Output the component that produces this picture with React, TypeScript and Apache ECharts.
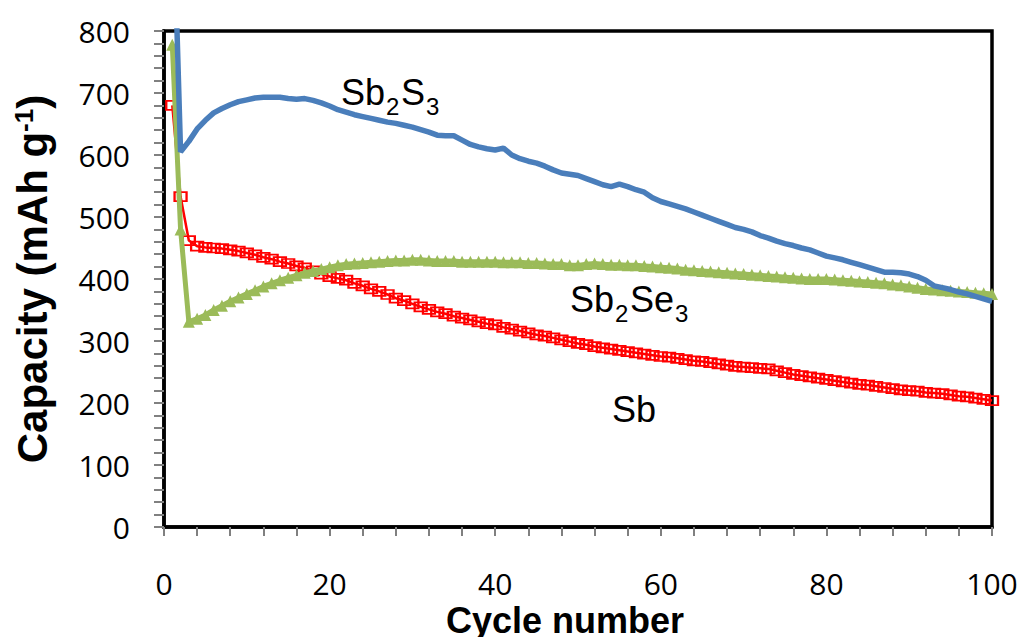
import React, { useEffect, useRef } from "react";
import * as echarts from "echarts";

const cycles: number[] = Array.from({ length: 100 }, (_, i) => i + 1);

const sb2s3: number[] = [
  1060, 605, 622, 642, 656, 668, 675, 681, 686, 689,
  692, 693, 693, 693, 691, 690, 691, 688, 684, 679,
  673, 669, 665, 662, 659, 656, 653, 651, 648, 645,
  641, 637, 632, 631, 631, 624, 617, 613, 610, 608,
  611, 600, 594, 590, 587, 582, 576, 571, 569, 567,
  562, 557, 552, 549, 553, 549, 544, 540, 531, 525,
  521, 517, 513, 508, 503, 498, 493, 488, 483, 480,
  476, 470, 466, 461, 457, 454, 450, 447, 442, 437,
  434, 431, 427, 423, 419, 415, 411, 411, 410, 408,
  404, 398, 389, 386, 383, 379, 376, 372, 368, 364,
];

const sb: number[] = [
  680, 533, 462, 453, 451, 450, 449, 447, 445, 442,
  439, 435, 432, 428, 425, 421, 418, 413, 408, 404,
  401, 398, 393, 389, 384, 380, 375, 369, 365, 360,
  355, 351, 347, 344, 340, 337, 334, 331, 328, 326,
  322, 319, 316, 313, 310, 308, 305, 302, 299, 296,
  294, 291, 289, 287, 285, 283, 281, 279, 277, 275,
  274, 272, 270, 268, 267, 265, 263, 261, 259, 258,
  257, 256, 255, 252, 249, 246, 244, 242, 240, 238,
  236, 234, 232, 230, 229, 227, 225, 223, 221, 220,
  219, 217, 216, 215, 213, 211, 210, 208, 206, 204,
];

const sb2se3: number[] = [
  778, 480, 331, 336, 342, 350, 357, 364, 370, 376,
  382, 388, 393, 398, 402, 406, 410, 413, 416, 419,
  422, 424, 425, 426, 427, 428, 429, 430, 430, 431,
  431, 430, 429, 429, 429, 428, 428, 428, 428, 428,
  427, 427, 427, 426, 426, 425, 424, 424, 422, 422,
  424, 425, 424, 423, 423, 422, 422, 421, 420, 419,
  418, 417, 415, 414, 413, 412, 411, 410, 409, 408,
  407, 406, 405, 404, 403, 402, 401, 400, 400, 400,
  399, 398, 397, 396, 395, 394, 393, 391, 390, 388,
  386, 384, 383, 382, 381, 380, 379, 378, 377, 376,
];

const seriesNames = ["Sb", "Sb2Se3", "Sb2S3"];

const pairs = (vals: number[]) => cycles.map((c, i) => [c, vals[i]]);

const FONT = "Liberation Sans";

function txt(x: number, y: number, text: string, size: number) {
  return {
    type: "text",
    x,
    y,
    z: 10,
    style: { text, fontSize: size, fontFamily: FONT, fill: "#000", verticalAlign: "top" },
  };
}

export default function App() {
  const ref = useRef<HTMLDivElement>(null);
  useEffect(() => {
    if (!ref.current) return;
    const chart = echarts.init(ref.current, undefined, { renderer: "svg" });
    chart.setOption({
      animation: false,
      backgroundColor: "#fff",
      grid: {
        left: 164,
        right: 30,
        top: 31,
        bottom: 110,
        show: true,
        borderColor: "#000",
        borderWidth: 3.5,
        backgroundColor: "transparent",
        containLabel: false,
        outerBoundsMode: "none",
      },
      xAxis: {
        type: "value",
        min: 0,
        max: 100,
        interval: 20,
        name: "Cycle number",
        nameLocation: "middle",
        nameGap: 60,
        nameTextStyle: {
          fontSize: 36,
          lineHeight: 36,
          fontWeight: "bold",
          fontFamily: FONT,
          color: "#000",
          padding: [0, 26, 0, 0],
        },
        axisLine: { show: true, lineStyle: { color: "#000", width: 3.5 } },
        axisTick: { show: true, length: 9, lineStyle: { color: "#808080", width: 2 } },
        minorTick: { show: true, splitNumber: 5, length: 9, lineStyle: { color: "#808080", width: 2 } },
        splitLine: { show: false },
        minorSplitLine: { show: false },
        axisLabel: { fontSize: 30, fontFamily: "Open Sans", color: "#000", margin: 41 },
      },
      yAxis: {
        type: "value",
        min: 0,
        max: 800,
        interval: 100,
        name: "{m|Capacity (mAh g}{sup|-1}{m|)}",
        nameLocation: "middle",
        nameGap: 111,
        nameRotate: 90,
        nameTextStyle: {
          rich: {
            m: { fontSize: 42, lineHeight: 42, fontWeight: "bold", fontFamily: FONT, color: "#000" },
            sup: { fontSize: 26, lineHeight: 14, verticalAlign: "top", fontWeight: "bold", fontFamily: FONT, color: "#000" },
          },
        },
        axisLine: { show: true, lineStyle: { color: "#000", width: 3.5 } },
        axisTick: { show: true, length: 10, lineStyle: { color: "#808080", width: 2 } },
        minorTick: { show: true, splitNumber: 5, length: 10, lineStyle: { color: "#808080", width: 2 } },
        splitLine: { show: false },
        minorSplitLine: { show: false },
        axisLabel: { fontSize: 30, fontFamily: "Open Sans", color: "#000", margin: 34 },
      },
      series: [
        {
          name: seriesNames[0],
          type: "line",
          data: pairs(sb),
          symbol: "rect",
          symbolSize: [12, 9],
          showAllSymbol: true,
          lineStyle: { color: "#ff0000", width: 2.5 },
          itemStyle: { color: "rgba(255,255,255,0)", borderColor: "#ff0000", borderWidth: 2 },
          z: 2,
        },
        {
          name: seriesNames[1],
          type: "line",
          data: pairs(sb2se3),
          symbol: "triangle",
          symbolSize: 12,
          showAllSymbol: true,
          lineStyle: { color: "#9bbb59", width: 5 },
          itemStyle: { color: "#9bbb59" },
          z: 3,
        },
        {
          name: seriesNames[2],
          type: "line",
          data: pairs(sb2s3),
          showSymbol: false,
          symbol: "none",
          lineStyle: { color: "#4a7ebb", width: 5.5 },
          itemStyle: { color: "#4a7ebb" },
          clip: true,
          z: 4,
        },
      ],
      graphic: [
        txt(341, 74, "Sb", 36),
        txt(386, 94, "2", 24),
        txt(401, 74, "S", 36),
        txt(426, 94, "3", 24),
        txt(570, 281, "Sb", 36),
        txt(615, 301, "2", 24),
        txt(630, 281, "Se", 36),
        txt(675, 301, "3", 24),
        txt(612, 391, "Sb", 36),
      ],
    });
    return () => chart.dispose();
  }, []);
  return (
    <div
      ref={ref}
      style={{ position: "fixed", left: 0, top: 0, width: 1022, height: 637 }}
    />
  );
}
